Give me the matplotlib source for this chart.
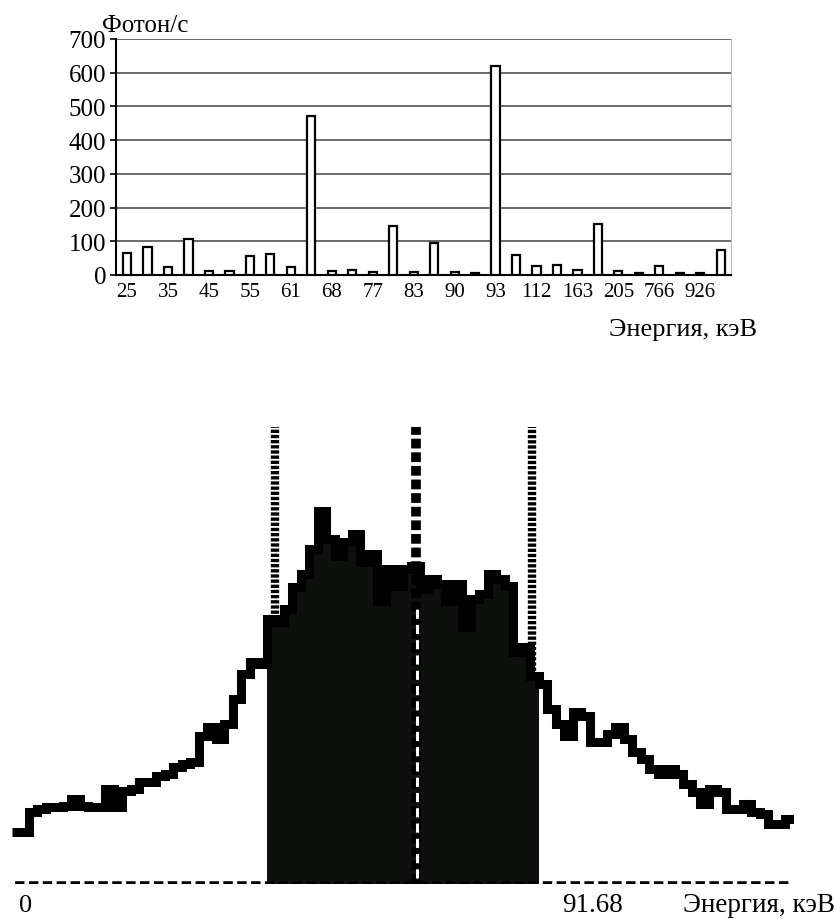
import numpy as np
import matplotlib
matplotlib.use('Agg')
import matplotlib.pyplot as plt

plt.rcParams['font.family'] = ['Liberation Serif', 'DejaVu Serif']

# top chart: photon rate per line
bar_values = [65, 82, 23, 107, 13, 11, 57, 62, 25, 473,
              13, 15, 8, 144, 10, 94, 9, 5, 621, 59,
              28, 30, 15, 151, 13, 7, 28, 5, 7, 74]
tick_labels = ['25', '35', '45', '55', '61', '68', '77', '83', '90', '93',
               '112', '163', '205', '766', '926']

# bottom chart: spectrum counts per channel
counts = [52, 52, 72, 75, 77, 77, 78, 85, 78, 77,
          77, 95, 77, 93, 95, 102, 102, 108, 110, 117,
          120, 122, 148, 157, 145, 160, 185, 210, 222, 220,
          265, 262, 275, 297, 310, 335, 373, 345, 328, 342,
          350, 322, 330, 283, 315, 298, 315, 318, 295, 305,
          300, 283, 300, 257, 285, 290, 310, 305, 298, 232,
          237, 208, 200, 175, 160, 148, 172, 168, 142, 142,
          150, 157, 145, 132, 125, 115, 110, 115, 110, 100,
          92, 80, 95, 92, 75, 75, 80, 72, 70, 60,
          60, 65]
window_start = 30   # first channel of the window
window_end = 62     # channel after the window
line_left = 30.9
line_mid = 47.5
line_right = 61.2

fig = plt.figure(figsize=(8.37, 9.2), dpi=100)

# ---- top bar chart
ax1 = fig.add_axes([116/837, 1 - 276/920, 615/837, 236/920])
x = np.arange(len(bar_values))
ax1.bar(x, bar_values, width=0.4, color='white', edgecolor='black', linewidth=1.6, zorder=3)
ax1.set_xlim(-0.54, 29.5)
ax1.set_ylim(0, 700)
ax1.set_yticks(range(0, 701, 100))
ax1.yaxis.grid(True, color='#505050', linewidth=1.2, zorder=0)
ax1.set_xticks(x[::2])
ax1.set_xticklabels(tick_labels)
ax1.tick_params(axis='x', length=0, pad=5, labelsize=15)
ax1.tick_params(axis='y', length=4, width=1.2, pad=3, labelsize=18)
ax1.spines['top'].set_visible(False)
ax1.spines['right'].set_color('#bbbbbb')
ax1.spines['left'].set_linewidth(1.5)
ax1.spines['bottom'].set_linewidth(1.5)
fig.text(102/837, 1 - 32/920, 'Фотон/с', fontsize=18, ha='left', va='baseline')
fig.text(757/837, 1 - 336/920, 'Энергия, кэВ', fontsize=19, ha='right', va='baseline')

# ---- bottom spectrum
ax2 = fig.add_axes([12/837, 1 - 885/920, 782/837, 460/920])
edges = np.arange(len(counts) + 1)
c = np.array(counts)
ax2.stairs(c[window_start:window_end], edges[window_start:window_end + 1],
           fill=True, color='#0e100e', zorder=2)
ax2.stairs(c, edges, baseline=None, color='black', linewidth=6.5, zorder=3)

ax2.plot([0.35, 91.8], [0, 0], color='black', lw=4, dashes=(1.7, 0.8),
         solid_capstyle='butt', zorder=4)
ax2.plot([line_left, line_left], [c[30], 457], color='black', lw=6,
         dashes=(0.4, 0.22), zorder=4)
ax2.plot([line_right, line_right], [c[61], 457], color='black', lw=6,
         dashes=(0.4, 0.22), zorder=4)
ax2.plot([line_mid, line_mid], [0, 457], color='black', lw=7,
         dashes=(1.0, 0.4), zorder=4)
ax2.plot([line_mid + 0.1, line_mid + 0.1], [6, 278], color='white', lw=2.2,
         dashes=(3, 2), zorder=5)
ax2.set_xlim(0, 92)
ax2.set_ylim(0, 460)
ax2.axis('off')

fig.text(26/837, 1 - 912/920, '0', fontsize=19, ha='center', va='baseline')
fig.text(593/837, 1 - 912/920, '91.68', fontsize=19.5, ha='center', va='baseline')
fig.text(835/837, 1 - 912/920, 'Энергия, кэВ', fontsize=19.5, ha='right', va='baseline')

fig.savefig('out.png', dpi=100)
